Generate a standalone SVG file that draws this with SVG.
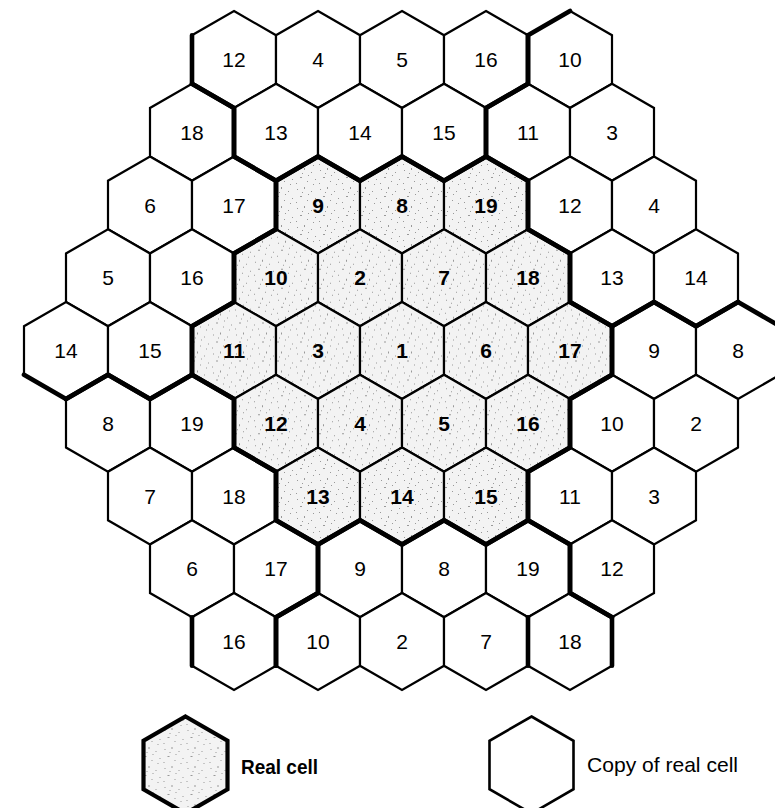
<svg xmlns="http://www.w3.org/2000/svg" width="775" height="808" viewBox="0 0 775 808">
<style>
.copy{fill:#ffffff;stroke:#000;stroke-width:2.2;stroke-linejoin:miter}
.real{fill:url(#stipple);stroke:#000;stroke-width:2.2;stroke-linejoin:miter}
.lab{font-family:"Liberation Sans",Arial,sans-serif;font-size:21px;text-anchor:middle;fill:#000}
.rl{font-weight:bold}
.thick{fill:none;stroke:#000;stroke-width:4.6;stroke-linejoin:round;stroke-linecap:round}
.leg{font-family:"Liberation Sans",Arial,sans-serif;font-size:21px;fill:#000}
</style>
<defs>
<pattern id="stipple" width="23" height="19" patternUnits="userSpaceOnUse">
<rect width="23" height="19" fill="#f3f3f3"/>
<g fill="#999999">
<rect x="2" y="3" width="1" height="1"/>
<rect x="9" y="1" width="1" height="2"/>
<rect x="16" y="5" width="1" height="1"/>
<rect x="20" y="12" width="1" height="1"/>
<rect x="5" y="10" width="2" height="1"/>
<rect x="12" y="14" width="1" height="1"/>
<rect x="1" y="16" width="1" height="1"/>
<rect x="18" y="17" width="1" height="1"/>
<rect x="13" y="8" width="1" height="1"/>
<rect x="7" y="6" width="1" height="1"/>
</g>
</pattern>
<polygon id="hex" points="0,-48.5 42,-24.25 42,24.25 0,48.5 -42,24.25 -42,-24.25"/>
</defs>
<rect width="775" height="808" fill="#ffffff"/>

<g id="cells">
<!-- row 0 -->
<g id="c-0-0"><use href="#hex" x="234" y="59.5" class="copy"/><text class="lab" x="234" y="67">12</text></g>
<g id="c-0-1"><use href="#hex" x="318" y="59.5" class="copy"/><text class="lab" x="318" y="67">4</text></g>
<g id="c-0-2"><use href="#hex" x="402" y="59.5" class="copy"/><text class="lab" x="402" y="67">5</text></g>
<g id="c-0-3"><use href="#hex" x="486" y="59.5" class="copy"/><text class="lab" x="486" y="67">16</text></g>
<g id="c-0-4"><use href="#hex" x="570" y="59.5" class="copy"/><text class="lab" x="570" y="67">10</text></g>
<!-- row 1 -->
<g id="c-1-0"><use href="#hex" x="192" y="132.25" class="copy"/><text class="lab" x="192" y="139.75">18</text></g>
<g id="c-1-1"><use href="#hex" x="276" y="132.25" class="copy"/><text class="lab" x="276" y="139.75">13</text></g>
<g id="c-1-2"><use href="#hex" x="360" y="132.25" class="copy"/><text class="lab" x="360" y="139.75">14</text></g>
<g id="c-1-3"><use href="#hex" x="444" y="132.25" class="copy"/><text class="lab" x="444" y="139.75">15</text></g>
<g id="c-1-4"><use href="#hex" x="528" y="132.25" class="copy"/><text class="lab" x="528" y="139.75">11</text></g>
<g id="c-1-5"><use href="#hex" x="612" y="132.25" class="copy"/><text class="lab" x="612" y="139.75">3</text></g>
<!-- row 2 -->
<g id="c-2-0"><use href="#hex" x="150" y="205" class="copy"/><text class="lab" x="150" y="212.5">6</text></g>
<g id="c-2-1"><use href="#hex" x="234" y="205" class="copy"/><text class="lab" x="234" y="212.5">17</text></g>
<g id="c-2-2"><use href="#hex" x="318" y="205" class="real"/><text class="lab rl" x="318" y="212.5">9</text></g>
<g id="c-2-3"><use href="#hex" x="402" y="205" class="real"/><text class="lab rl" x="402" y="212.5">8</text></g>
<g id="c-2-4"><use href="#hex" x="486" y="205" class="real"/><text class="lab rl" x="486" y="212.5">19</text></g>
<g id="c-2-5"><use href="#hex" x="570" y="205" class="copy"/><text class="lab" x="570" y="212.5">12</text></g>
<g id="c-2-6"><use href="#hex" x="654" y="205" class="copy"/><text class="lab" x="654" y="212.5">4</text></g>
<!-- row 3 -->
<g id="c-3-0"><use href="#hex" x="108" y="277.75" class="copy"/><text class="lab" x="108" y="285.25">5</text></g>
<g id="c-3-1"><use href="#hex" x="192" y="277.75" class="copy"/><text class="lab" x="192" y="285.25">16</text></g>
<g id="c-3-2"><use href="#hex" x="276" y="277.75" class="real"/><text class="lab rl" x="276" y="285.25">10</text></g>
<g id="c-3-3"><use href="#hex" x="360" y="277.75" class="real"/><text class="lab rl" x="360" y="285.25">2</text></g>
<g id="c-3-4"><use href="#hex" x="444" y="277.75" class="real"/><text class="lab rl" x="444" y="285.25">7</text></g>
<g id="c-3-5"><use href="#hex" x="528" y="277.75" class="real"/><text class="lab rl" x="528" y="285.25">18</text></g>
<g id="c-3-6"><use href="#hex" x="612" y="277.75" class="copy"/><text class="lab" x="612" y="285.25">13</text></g>
<g id="c-3-7"><use href="#hex" x="696" y="277.75" class="copy"/><text class="lab" x="696" y="285.25">14</text></g>
<!-- row 4 -->
<g id="c-4-0"><use href="#hex" x="66" y="350.5" class="copy"/><text class="lab" x="66" y="358">14</text></g>
<g id="c-4-1"><use href="#hex" x="150" y="350.5" class="copy"/><text class="lab" x="150" y="358">15</text></g>
<g id="c-4-2"><use href="#hex" x="234" y="350.5" class="real"/><text class="lab rl" x="234" y="358">11</text></g>
<g id="c-4-3"><use href="#hex" x="318" y="350.5" class="real"/><text class="lab rl" x="318" y="358">3</text></g>
<g id="c-4-4"><use href="#hex" x="402" y="350.5" class="real"/><text class="lab rl" x="402" y="358">1</text></g>
<g id="c-4-5"><use href="#hex" x="486" y="350.5" class="real"/><text class="lab rl" x="486" y="358">6</text></g>
<g id="c-4-6"><use href="#hex" x="570" y="350.5" class="real"/><text class="lab rl" x="570" y="358">17</text></g>
<g id="c-4-7"><use href="#hex" x="654" y="350.5" class="copy"/><text class="lab" x="654" y="358">9</text></g>
<g id="c-4-8"><use href="#hex" x="738" y="350.5" class="copy"/><text class="lab" x="738" y="358">8</text></g>
<!-- row 5 -->
<g id="c-5-0"><use href="#hex" x="108" y="423.25" class="copy"/><text class="lab" x="108" y="430.75">8</text></g>
<g id="c-5-1"><use href="#hex" x="192" y="423.25" class="copy"/><text class="lab" x="192" y="430.75">19</text></g>
<g id="c-5-2"><use href="#hex" x="276" y="423.25" class="real"/><text class="lab rl" x="276" y="430.75">12</text></g>
<g id="c-5-3"><use href="#hex" x="360" y="423.25" class="real"/><text class="lab rl" x="360" y="430.75">4</text></g>
<g id="c-5-4"><use href="#hex" x="444" y="423.25" class="real"/><text class="lab rl" x="444" y="430.75">5</text></g>
<g id="c-5-5"><use href="#hex" x="528" y="423.25" class="real"/><text class="lab rl" x="528" y="430.75">16</text></g>
<g id="c-5-6"><use href="#hex" x="612" y="423.25" class="copy"/><text class="lab" x="612" y="430.75">10</text></g>
<g id="c-5-7"><use href="#hex" x="696" y="423.25" class="copy"/><text class="lab" x="696" y="430.75">2</text></g>
<!-- row 6 -->
<g id="c-6-0"><use href="#hex" x="150" y="496" class="copy"/><text class="lab" x="150" y="503.5">7</text></g>
<g id="c-6-1"><use href="#hex" x="234" y="496" class="copy"/><text class="lab" x="234" y="503.5">18</text></g>
<g id="c-6-2"><use href="#hex" x="318" y="496" class="real"/><text class="lab rl" x="318" y="503.5">13</text></g>
<g id="c-6-3"><use href="#hex" x="402" y="496" class="real"/><text class="lab rl" x="402" y="503.5">14</text></g>
<g id="c-6-4"><use href="#hex" x="486" y="496" class="real"/><text class="lab rl" x="486" y="503.5">15</text></g>
<g id="c-6-5"><use href="#hex" x="570" y="496" class="copy"/><text class="lab" x="570" y="503.5">11</text></g>
<g id="c-6-6"><use href="#hex" x="654" y="496" class="copy"/><text class="lab" x="654" y="503.5">3</text></g>
<!-- row 7 -->
<g id="c-7-0"><use href="#hex" x="192" y="568.75" class="copy"/><text class="lab" x="192" y="576.25">6</text></g>
<g id="c-7-1"><use href="#hex" x="276" y="568.75" class="copy"/><text class="lab" x="276" y="576.25">17</text></g>
<g id="c-7-2"><use href="#hex" x="360" y="568.75" class="copy"/><text class="lab" x="360" y="576.25">9</text></g>
<g id="c-7-3"><use href="#hex" x="444" y="568.75" class="copy"/><text class="lab" x="444" y="576.25">8</text></g>
<g id="c-7-4"><use href="#hex" x="528" y="568.75" class="copy"/><text class="lab" x="528" y="576.25">19</text></g>
<g id="c-7-5"><use href="#hex" x="612" y="568.75" class="copy"/><text class="lab" x="612" y="576.25">12</text></g>
<!-- row 8 -->
<g id="c-8-0"><use href="#hex" x="234" y="641.5" class="copy"/><text class="lab" x="234" y="649">16</text></g>
<g id="c-8-1"><use href="#hex" x="318" y="641.5" class="copy"/><text class="lab" x="318" y="649">10</text></g>
<g id="c-8-2"><use href="#hex" x="402" y="641.5" class="copy"/><text class="lab" x="402" y="649">2</text></g>
<g id="c-8-3"><use href="#hex" x="486" y="641.5" class="copy"/><text class="lab" x="486" y="649">7</text></g>
<g id="c-8-4"><use href="#hex" x="570" y="641.5" class="copy"/><text class="lab" x="570" y="649">18</text></g>
</g>

<g id="cluster-boundaries">
<path class="thick" d="M276,229.25 L276,180.75 L318,156.5 L360,180.75 L402,156.5 L444,180.75 L486,156.5 L528,180.75 L528,229.25 L570,253.5 L570,302 L612,326.25 L612,374.75 L570,399 L570,447.5 L528,471.75 L528,520.25 L486,544.5 L444,520.25 L402,544.5 L360,520.25 L318,544.5 L276,520.25 L276,471.75 L234,447.5 L234,399 L192,374.75 L192,326.25 L234,302 L234,253.5 Z"/>
<path class="thick" d="M612,617.25 L570,593 L570,544.5 L528,520.25 L528,471.75 L570,447.5 L570,399 L612,374.75 L612,326.25 L654,302 L696,326.25 L738,302 L780,326.25"/>
<path class="thick" d="M276,665.75 L276,617.25 L318,593 L318,544.5 L360,520.25 L402,544.5 L444,520.25 L486,544.5 L528,520.25 L570,544.5 L570,593 L612,617.25 L612,665.75"/>
<path class="thick" d="M66,399 L108,374.75 L150,399 L192,374.75 L234,399 L234,447.5 L276,471.75 L276,520.25 L318,544.5 L318,593 L276,617.25 L276,665.75"/>
<path class="thick" d="M192,83.75 L234,108 L234,156.5 L276,180.75 L276,229.25 L234,253.5 L234,302 L192,326.25 L192,374.75 L150,399 L108,374.75 L66,399 L24,374.75"/>
<path class="thick" d="M528,35.25 L528,83.75 L486,108 L486,156.5 L444,180.75 L402,156.5 L360,180.75 L318,156.5 L276,180.75 L234,156.5 L234,108 L192,83.75 L192,35.25"/>
<path class="thick" d="M738,302 L696,326.25 L654,302 L612,326.25 L570,302 L570,253.5 L528,229.25 L528,180.75 L486,156.5 L486,108 L528,83.75 L528,35.25 L570,11"/>
<path class="thick" d="M192,617.25 L192,665.75"/>
<path class="thick" d="M528,617.25 L528,665.75"/>
</g>

<g id="legend-real">
<use href="#hex" x="185.5" y="765" class="real" style="stroke-width:4.2"/>
<text class="leg" x="241" y="774" font-weight="bold" textLength="77" lengthAdjust="spacingAndGlyphs">Real cell</text>
</g>
<g id="legend-copy">
<use href="#hex" x="531.5" y="765" class="copy" style="stroke-width:2.6"/>
<text class="leg" x="587" y="772" textLength="151" lengthAdjust="spacingAndGlyphs">Copy of real cell</text>
</g>
</svg>
